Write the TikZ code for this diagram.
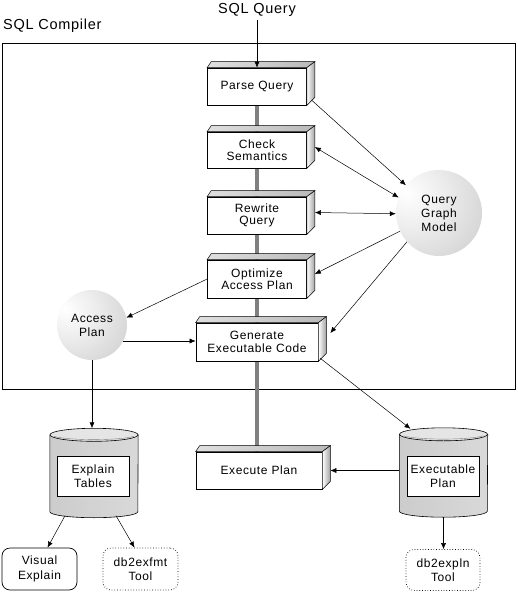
\documentclass[tikz,border=0pt]{standalone}
\usepackage{fontspec}
\setmainfont{Liberation Sans}[LetterSpace=5]
\usetikzlibrary{calc,arrows.meta,backgrounds}
\pgfdeclareradialshading{sphere}{\pgfpoint{-20bp}{12bp}}{color(0bp)=(white); color(18bp)=(white!93!black); color(40bp)=(white!83!black); color(60bp)=(white!73!black); color(80bp)=(white!66!black)}

\begin{document}
\begin{tikzpicture}[x=1pt,y=1pt,
  font=\fontsize{12}{12.5}\selectfont,
  arr/.style={-{Latex[length=6pt,width=5pt]}, line width=0.5pt},
  darr/.style={{Latex[length=6pt,width=5pt]}-{Latex[length=6pt,width=5pt]}, line width=0.5pt},
  stage/.style={draw, line width=0.7pt, fill=white, align=center, minimum width=99pt, minimum height=37pt, inner sep=0pt},
  globe/.style={circle, shading=sphere, align=center, inner sep=0pt, font=\fontsize{12}{14}\selectfont},
  drum/.style={minimum width=88pt, minimum height=89pt, inner sep=0pt},
  inbox/.style={draw, line width=0.7pt, fill=white, align=center, minimum width=72pt, minimum height=40pt, inner sep=0pt, font=\fontsize{12}{13.5}\selectfont},
  tool/.style={draw, line width=0.7pt, rounded corners=8pt, align=center, minimum width=75pt, minimum height=42pt, inner sep=0pt, font=\fontsize{12}{14.5}\selectfont}]
  \useasboundingbox (0,0) rectangle (517,-593);
  \node (sq) at (257,-10) {\fontsize{14.5}{15}\selectfont SQL Query};
  \node[anchor=west, inner sep=0pt] (sc) at (3,-26) {\fontsize{14.5}{15}\selectfont SQL Compiler};
  \node[stage] (pq) at (257,-86.5) {Parse Query};
  \node[stage, minimum height=36pt] (cs) at (257,-150) {Check\\Semantics};
  \node[stage] (rq) at (257,-215.5) {Rewrite\\Query};
  \node[stage, minimum height=38pt] (oap) at (257,-279) {Optimize\\Access Plan};
  \node[stage, minimum width=122pt, minimum height=38pt] (gec) at (257,-342) {Generate\\Executable Code};
  \node[stage, minimum width=126pt] (ep) at (259,-470.5) {Execute Plan};
  \node[globe, minimum size=86pt] (qgm) at (439,-213) {Query\\Graph\\Model};
  \node[globe, minimum size=70pt] (ap) at (92,-325) {Access\\Plan};
  \node[drum] (etc) at (94,-473) {};
  \node[drum] (epc) at (443.5,-472.5) {};
  \node[tool] (ve) at (39.5,-569) {Visual\\Explain};
  \node[tool, dotted] (exfmt) at (140.5,-569) {db2exfmt\\Tool};
  \node[tool, dotted, minimum width=74pt, minimum height=41pt] (expln) at (443,-570) {db2expln\\Tool};
  \begin{scope}[on background layer]
    \draw[line width=0.8pt] (2,-43) rectangle (515,-389);
    \draw[gray, line width=3.5pt] (pq.center) -- (pq.center |- ep.center);
  \end{scope}
  \foreach \b in {pq,cs,rq,oap,gec,ep} {
    \shade[draw, line width=0.5pt, left color=gray!25, right color=gray!55] (\b.north west) -- ++(4,6) -- ($(\b.north east)+(8,6)$) -- (\b.north east) -- cycle;
    \shade[draw, line width=0.5pt, left color=white, right color=gray!75] (\b.north east) -- ++(8,6) -- ($(\b.south east)+(8,8)$) -- (\b.south east) -- cycle;
  }
  \foreach \c in {etc,epc} {
    \shade[draw, line width=0.6pt, left color=gray!40, middle color=white, right color=gray!30] ($(\c.north west)+(0,-6.5)$) -- ($(\c.south west)+(0,6)$) arc[start angle=180, end angle=360, x radius=44pt, y radius=6pt] -- ($(\c.north east)+(0,-6.5)$) -- cycle;
    \draw[fill=gray!20, line width=0.6pt] ($(\c.north)+(0,-6.5)$) ellipse [x radius=44pt, y radius=6.5pt];
    \draw[gray, line width=0.4pt] ($(\c.north)+(-40,-8)$) arc[start angle=200, end angle=340, x radius=42.5pt, y radius=5pt];
  }
  \node[inbox] (etab) at (93,-476) {Explain\\Tables};
  \node[inbox] (eplan) at (443,-476) {Executable\\Plan};
  \draw[arr] (sq) -- (sq |- pq.north);
  \draw[arr] ($(pq.south east)+(5,5)$) -- (qgm.140);
  \draw[darr] ($(cs.east)+(8,3)$) -- (qgm.159);
  \draw[darr] ($(rq.east)+(8,3)$) -- (qgm.181);
  \draw[arr] (qgm.205) -- ($(oap.east)+(8,5)$);
  \draw[arr] (qgm.222) -- ($(gec.east)+(12,9)$);
  \draw[arr] (oap.west) -- (ap.12);
  \draw[arr] (ap.-27) -- (ap.-27 -| gec.west);
  \draw[arr] (ap.south) -- (ap.south |- etc.north);
  \draw[arr] ($(gec.south east)+(2,3)$) -- ($(epc.north)+(-33,-1)$);
  \draw[arr] (epc.west |- ep.east) -- ($(ep.east)+(8,0)$);
  \draw[arr] (epc.south) -- (epc.south |- expln.north);
  \draw[arr] ($(etc.south)+(-29,2)$) -- ($(ve.north)+(8,0)$);
  \draw[arr] ($(etc.south)+(22,2)$) -- ($(exfmt.north)+(-6,0)$);
\end{tikzpicture}
\end{document}
